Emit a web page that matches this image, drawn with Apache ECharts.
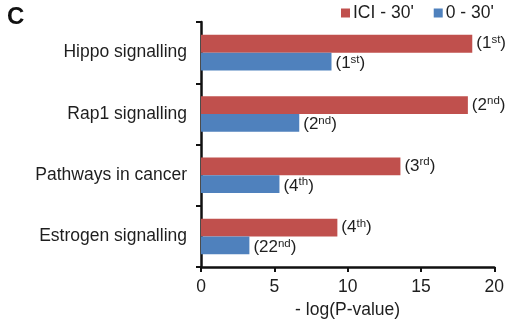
<!DOCTYPE html>
<html>
<head>
<meta charset="utf-8">
<script src="https://cdn.jsdelivr.net/npm/echarts@6/dist/echarts.min.js"></script>
<style>
  html, body { margin: 0; padding: 0; background: #fff; }
  #chart { width: 507px; height: 324px; }
</style>
</head>
<body>
<div id="chart"></div>
<script>
// KEGG pathway enrichment, shown as -log(P-value)
const pathways = ['Hippo signalling', 'Rap1 signalling', 'Pathways in cancer', 'Estrogen signalling'];
const iciValues = [18.5, 18.2, 13.6, 9.3];
const zeroValues = [8.9, 6.7, 5.35, 3.3];
const iciRanks = [['1', 'st'], ['2', 'nd'], ['3', 'rd'], ['4', 'th']];
const zeroRanks = [['1', 'st'], ['2', 'nd'], ['4', 'th'], ['22', 'nd']];
const xTicks = [0, 5, 10, 15, 20];

const FONT = 'Liberation Sans, Arial, sans-serif';
const TEXT = '#1e1e1e';
const RED = '#c0504d';
const BLUE = '#4f81bd';
const FS = 17.5;

function rankLabel(ranks, dy) {
  return {
    show: true,
    position: 'right',
    distance: 4,
    offset: [0, dy],
    formatter: p => '{n|(' + ranks[p.dataIndex][0] + '}{s|' + ranks[p.dataIndex][1] + '}{n|)}',
    rich: {
      n: { fontSize: 17, fontFamily: FONT, color: TEXT, lineHeight: 20 },
      s: { fontSize: 11.5, fontFamily: FONT, color: TEXT, verticalAlign: 'top', lineHeight: 20, padding: [0, 0, 7, 0] }
    }
  };
}

const chart = echarts.init(document.getElementById('chart'), null, { renderer: 'canvas' });
chart.setOption({
  animation: false,
  textStyle: { fontFamily: FONT },
  title: {
    text: 'C', left: 2, top: 0,
    textStyle: { fontSize: 24, fontWeight: 'bold', color: '#111', fontFamily: FONT }
  },
  legend: {
    left: 336, top: -1,
    itemWidth: 9, itemHeight: 9, itemGap: 20,
    icon: 'rect',
    textStyle: { fontSize: FS, color: TEXT, fontFamily: FONT, padding: [0, 0, 0, -2] },
    data: ['ICI - 30\'', '0 - 30\'']
  },
  grid: { left: 201, right: 11, top: 22, bottom: 52, containLabel: false },
  xAxis: {
    type: 'value', min: 0, max: 20, interval: 5,
    name: '- log(P-value)', nameLocation: 'middle', nameGap: 24,
    nameTextStyle: { fontSize: FS, color: TEXT, fontFamily: FONT },
    axisLine: { show: true, lineStyle: { color: '#111', width: 2.5 } },
    axisTick: { show: true, length: 5, lineStyle: { color: '#111', width: 2 } },
    axisLabel: { fontSize: FS, color: TEXT, margin: 11, formatter: v => xTicks.includes(v) ? String(v) : '' },
    splitLine: { show: false }
  },
  yAxis: {
    type: 'category', data: pathways, inverse: true,
    axisLine: { show: true, lineStyle: { color: '#111', width: 2.5 } },
    axisTick: { show: true, length: 5, lineStyle: { color: '#111', width: 2 } },
    axisLabel: { fontSize: FS, color: TEXT, margin: 14 }
  },
  series: [
    {
      name: 'ICI - 30\'', type: 'bar', data: iciValues,
      itemStyle: { color: RED },
      barGap: '0%', barCategoryGap: '42%',
      label: rankLabel(iciRanks, 0)
    },
    {
      name: '0 - 30\'', type: 'bar', data: zeroValues,
      itemStyle: { color: BLUE },
      barGap: '0%', barCategoryGap: '42%',
      label: rankLabel(zeroRanks, 2)
    }
  ]
});
</script>
</body>
</html>
